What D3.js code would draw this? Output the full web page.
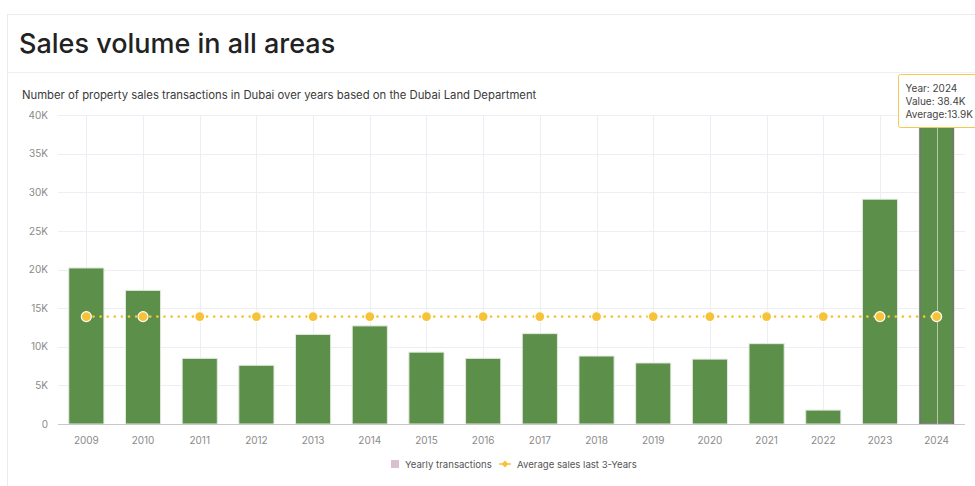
<!DOCTYPE html>
<html>
<head>
<meta charset="utf-8">
<script src="https://cdn.jsdelivr.net/npm/d3@7"></script>
<style>
  html, body { margin: 0; padding: 0; background: #fff; }
  svg { display: block; font-family: Inter, "Noto Sans", sans-serif; }
</style>
</head>
<body>
<svg id="chart" width="975" height="486"></svg>
<script>
// Dubai property sales transactions per year
const years = ["2009","2010","2011","2012","2013","2014","2015","2016","2017","2018","2019","2020","2021","2022","2023","2024"];
const transactions = [20200, 17300, 8500, 7600, 11600, 12700, 9300, 8500, 11700, 8800, 7900, 8400, 10400, 1800, 29100, 38400];
const average3y = [13900, 13900, 13900, 13900, 13900, 13900, 13900, 13900, 13900, 13900, 13900, 13900, 13900, 13900, 13900, 13900];
const yTicks = [0, 5000, 10000, 15000, 20000, 25000, 30000, 35000, 40000];
const legendLabels = ["Yearly transactions", "Average sales last 3-Years"];
const highlightYear = "2024";

const svg = d3.select("#chart");
const W = 975, H = 486;
const plot = { left: 58, right: 965, top: 115, bottom: 424 };

// card frame
svg.append("rect").attr("x", 7.5).attr("y", 14.5).attr("width", W).attr("height", H)
  .attr("fill", "#fff").attr("stroke", "#ececec");
svg.append("line").attr("x1", 7).attr("x2", W).attr("y1", 72.5).attr("y2", 72.5)
  .attr("stroke", "#efefef");

svg.append("text").attr("x", 19).attr("y", 53)
  .attr("font-size", 27).attr("font-weight", 500).attr("fill", "#222")
  .text("Sales volume in all areas");

svg.append("text").attr("x", 22).attr("y", 99)
  .attr("font-size", 11.3).attr("fill", "#3a3a3a")
  .text("Number of property sales transactions in Dubai over years based on the Dubai Land Department");

const x = d3.scaleBand().domain(years).range([plot.left, plot.right])
  .paddingInner(0.38).paddingOuter(0.19);
const y = d3.scaleLinear().domain([0, 40000]).range([plot.bottom, plot.top]);
const cx = d => x(d) + x.bandwidth() / 2;

// horizontal grid
svg.append("g").selectAll("line").data(yTicks.filter(t => t > 0)).join("line")
  .attr("x1", plot.left).attr("x2", plot.right)
  .attr("y1", d => Math.round(y(d)) + 0.5).attr("y2", d => Math.round(y(d)) + 0.5)
  .attr("stroke", "#eceef3");
// vertical grid at category centres
svg.append("g").selectAll("line").data(years).join("line")
  .attr("x1", d => Math.round(cx(d)) + 0.5).attr("x2", d => Math.round(cx(d)) + 0.5)
  .attr("y1", plot.top).attr("y2", plot.bottom)
  .attr("stroke", "#eceef3");

// y axis labels
const yAxis = svg.append("g").attr("transform", `translate(${plot.left},0)`)
  .call(d3.axisLeft(y).tickValues(yTicks).tickSize(0).tickPadding(10)
    .tickFormat(d => d === 0 ? "0" : (d / 1000) + "K"));
yAxis.select(".domain").remove();
yAxis.selectAll("text").attr("font-size", 10).attr("fill", "#8a8a8a")
  .attr("font-family", "Inter, 'Noto Sans', sans-serif");

// bars
svg.append("g").selectAll("rect").data(years).join("rect")
  .attr("x", d => x(d)).attr("width", x.bandwidth())
  .attr("y", (d, i) => y(transactions[i]))
  .attr("height", (d, i) => plot.bottom - y(transactions[i]))
  .attr("fill", "#5b8f4a").attr("stroke", "#e4eadf").attr("stroke-width", 1);

// hover highlight on the selected year
const hi = years.indexOf(highlightYear);
svg.append("rect")
  .attr("x", x(highlightYear) + 1).attr("width", x.bandwidth() - 2)
  .attr("y", y(transactions[hi]))
  .attr("height", plot.bottom - y(transactions[hi]))
  .attr("fill", "none").attr("stroke", "#757575").attr("stroke-width", 1.5);
svg.append("line")
  .attr("x1", Math.round(cx(highlightYear)) + 0.5).attr("x2", Math.round(cx(highlightYear)) + 0.5)
  .attr("y1", plot.top).attr("y2", plot.bottom)
  .attr("stroke", "#b9c4b3").attr("stroke-width", 1);

// x axis
svg.append("line").attr("x1", plot.left).attr("x2", plot.right)
  .attr("y1", plot.bottom + 0.5).attr("y2", plot.bottom + 0.5).attr("stroke", "#c9c9c9");
const xAxis = svg.append("g").attr("transform", `translate(0,${plot.bottom})`)
  .call(d3.axisBottom(x).tickSize(0).tickPadding(13));
xAxis.select(".domain").remove();
xAxis.selectAll("text").attr("font-size", 10).attr("fill", "#8a8a8a")
  .attr("font-family", "Inter, 'Noto Sans', sans-serif");

// 3-year average line
const line = d3.line().x((d, i) => cx(years[i])).y(d => y(d));
svg.append("path").datum(average3y).attr("d", line)
  .attr("fill", "none").attr("stroke", "#f6c338").attr("stroke-width", 2.6)
  .attr("stroke-linecap", "round").attr("stroke-dasharray", "0.1,7");
svg.append("g").selectAll("circle").data(average3y).join("circle")
  .attr("cx", (d, i) => cx(years[i])).attr("cy", d => y(d)).attr("r", 5)
  .attr("fill", "#f6c338").attr("stroke", "#fff").attr("stroke-width", 1.2);

// legend
const lg = svg.append("g").attr("font-size", 9.6).attr("fill", "#555");
lg.append("rect").attr("x", 391).attr("y", 460).attr("width", 8).attr("height", 8).attr("fill", "#d9bfd0");
lg.append("text").attr("x", 405).attr("y", 468).text(legendLabels[0]);
lg.append("line").attr("x1", 499).attr("x2", 511).attr("y1", 464).attr("y2", 464)
  .attr("stroke", "#f6c338").attr("stroke-width", 1.5);
lg.append("path").attr("d", "M505,460.5L508.5,464L505,467.5L501.5,464Z").attr("fill", "#f6c338");
lg.append("text").attr("x", 517).attr("y", 468).text(legendLabels[1]);

// tooltip for the highlighted year
const fmtK = v => (v / 1000).toFixed(1) + "K";
const tip = svg.append("g").attr("transform", "translate(898.5,74.5)");
tip.append("rect").attr("width", 90).attr("height", 53).attr("rx", 2)
  .attr("fill", "#fff").attr("stroke", "#f3c94f").attr("stroke-width", 1);
const tipLines = ["Year: " + highlightYear, "Value: " + fmtK(transactions[hi]), "Average:" + fmtK(average3y[hi])];
tip.selectAll("text").data(tipLines).join("text")
  .attr("x", 7).attr("y", (d, i) => 17 + i * 13)
  .attr("font-size", 10).attr("fill", "#444").text(d => d);
</script>
</body>
</html>
